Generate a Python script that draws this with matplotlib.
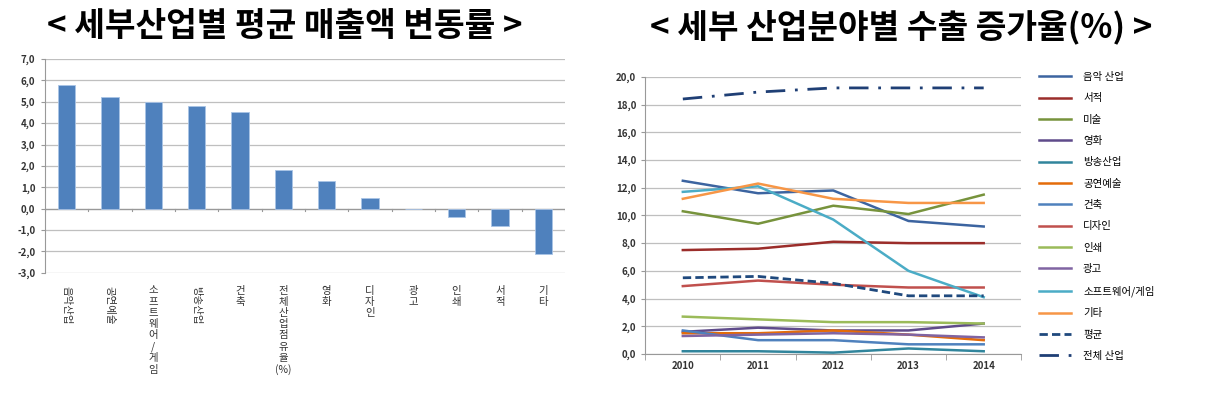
import matplotlib
matplotlib.use("Agg")
import matplotlib.pyplot as plt
from matplotlib.transforms import blended_transform_factory

plt.rcParams['font.family'] = ['Noto Sans CJK KR', 'DejaVu Sans']

# left chart: average sales change by sub-industry
bar_labels = ["음악산업", "공연예술", "소프트웨어/게임", "방송산업", "건축",
              "전체산업점유율(%)", "영화", "디자인", "광고", "인쇄", "서적", "기타"]
bar_values = [5.8, 5.2, 5.0, 4.8, 4.5, 1.8, 1.3, 0.5, 0.0, -0.4, -0.8, -2.1]
rotated_labels = ["음악산업", "공연예술", "방송산업"]

# right chart: export growth by sub-field
years = [2010, 2011, 2012, 2013, 2014]
series_names = ["음악 산업", "서적", "미술", "영화", "방송산업", "공연예술", "건축",
                "디자인", "인쇄", "광고", "소프트웨어/게임", "기타", "평균", "전체 산업"]
series_values = [
    [12.5, 11.6, 11.8, 9.6, 9.2],
    [7.5, 7.6, 8.1, 8.0, 8.0],
    [10.3, 9.4, 10.7, 10.1, 11.5],
    [1.6, 1.9, 1.7, 1.7, 2.2],
    [0.2, 0.2, 0.1, 0.4, 0.2],
    [1.5, 1.5, 1.7, 1.4, 1.0],
    [1.7, 1.0, 1.0, 0.7, 0.7],
    [4.9, 5.3, 5.0, 4.8, 4.8],
    [2.7, 2.5, 2.3, 2.3, 2.2],
    [1.3, 1.4, 1.5, 1.4, 1.2],
    [11.7, 12.1, 9.7, 6.0, 4.1],
    [11.2, 12.3, 11.2, 10.9, 10.9],
    [5.5, 5.6, 5.1, 4.2, 4.2],
    [18.4, 18.9, 19.2, 19.2, 19.2],
]
series_colors = ["#3c64a0", "#9b2d2a", "#77933c", "#5f4b8b", "#31859c", "#e46c0a",
                 "#4f81bd", "#c0504d", "#9bbb59", "#8064a2", "#4bacc6", "#f79646",
                 "#1f497d", "#1f3f75"]

fig = plt.figure(figsize=(12.29, 3.96), dpi=100)

fig.text(0.232, 0.932, "< 세부산업별 평균 매출액 변동률 >", ha="center", va="center",
         fontsize=24, fontweight="bold")
fig.text(0.733, 0.932, "< 세부 산업분야별 수출 증가율(%) >", ha="center", va="center",
         fontsize=24, fontweight="bold")

# ---- left bar chart
ax1 = fig.add_axes([0.0366, 0.311, 0.423, 0.540])
x = list(range(len(bar_values)))
ax1.bar(x, bar_values, width=0.4, color="#4f81bd", edgecolor="#a9c4e6", linewidth=0.6, zorder=3)
ax1.set_xlim(-0.5, len(bar_values) - 0.5)
ax1.set_ylim(-3, 7)
ax1.set_yticks(range(-3, 8))
ax1.set_yticklabels([f"{v:.1f}".replace(".", ",") for v in range(-3, 8)],
                    fontsize=7, fontweight="bold", color="#333333")
ax1.yaxis.grid(True, color="#bfbfbf", linewidth=0.9, zorder=0)
ax1.tick_params(axis="y", length=3, color="#999999", pad=4)
for s in ["top", "right", "bottom"]:
    ax1.spines[s].set_visible(False)
ax1.spines["left"].set_color("#999999")
ax1.set_xticks([])
ax1.axhline(0, color="#999999", linewidth=0.9, zorder=2)
tr = blended_transform_factory(ax1.transData, ax1.transAxes)
for i in range(len(bar_values) + 1):
    ax1.plot([i - 0.5, i - 0.5], [0, -0.12], color="#999999", linewidth=0.8, zorder=2)
for i, lab in enumerate(bar_labels):
    if lab in rotated_labels:
        ax1.text(i, -0.06, lab, transform=tr, rotation=270, ha="center", va="top",
                 fontsize=7.5, color="#333333")
    else:
        chars = list(lab)
        if lab.endswith("(%)"):
            chars = chars[:-3] + ["(%)"]
        ax1.text(i, -0.06, "\n".join(chars), transform=tr, ha="center", va="top",
                 fontsize=7.5, color="#333333", linespacing=1.15)

# ---- right line chart
ax2 = fig.add_axes([0.525, 0.106, 0.306, 0.700])
for name, vals, col in zip(series_names, series_values, series_colors):
    if name == "평균":
        ax2.plot(years, vals, color=col, linewidth=2.0, linestyle=(0, (3, 1.5)), label=name, zorder=3)
    elif name == "전체 산업":
        ax2.plot(years, vals, color=col, linewidth=2.0, linestyle=(0, (7, 3.5, 1, 3.5)),
                 label=name, zorder=3)
    else:
        ax2.plot(years, vals, color=col, linewidth=1.8, label=name, zorder=3)
ax2.set_xlim(2009.5, 2014.5)
ax2.set_ylim(0, 20)
ax2.set_yticks(range(0, 21, 2))
ax2.set_yticklabels([f"{v:.1f}".replace(".", ",") for v in range(0, 21, 2)],
                    fontsize=7, fontweight="bold", color="#333333")
ax2.set_xticks(years)
ax2.set_xticklabels([str(y) for y in years], fontsize=7, fontweight="bold", color="#333333")
ax2.set_xticks([2009.5 + i for i in range(6)], minor=True)
ax2.tick_params(axis="x", which="major", length=0, pad=5)
ax2.tick_params(axis="x", which="minor", length=4, color="#999999")
ax2.tick_params(axis="y", length=3, color="#999999")
ax2.yaxis.grid(True, color="#bfbfbf", linewidth=0.9, zorder=0)
for s in ["top", "right"]:
    ax2.spines[s].set_visible(False)
ax2.spines["left"].set_color("#999999")
ax2.spines["bottom"].set_color("#999999")

fig.legend(*ax2.get_legend_handles_labels(), loc="upper left",
           bbox_to_anchor=(0.838, 0.842), frameon=False, fontsize=7.5,
           handlelength=3.0, handletextpad=1.2, labelspacing=1.09)

fig.savefig("out.png", dpi=100)
